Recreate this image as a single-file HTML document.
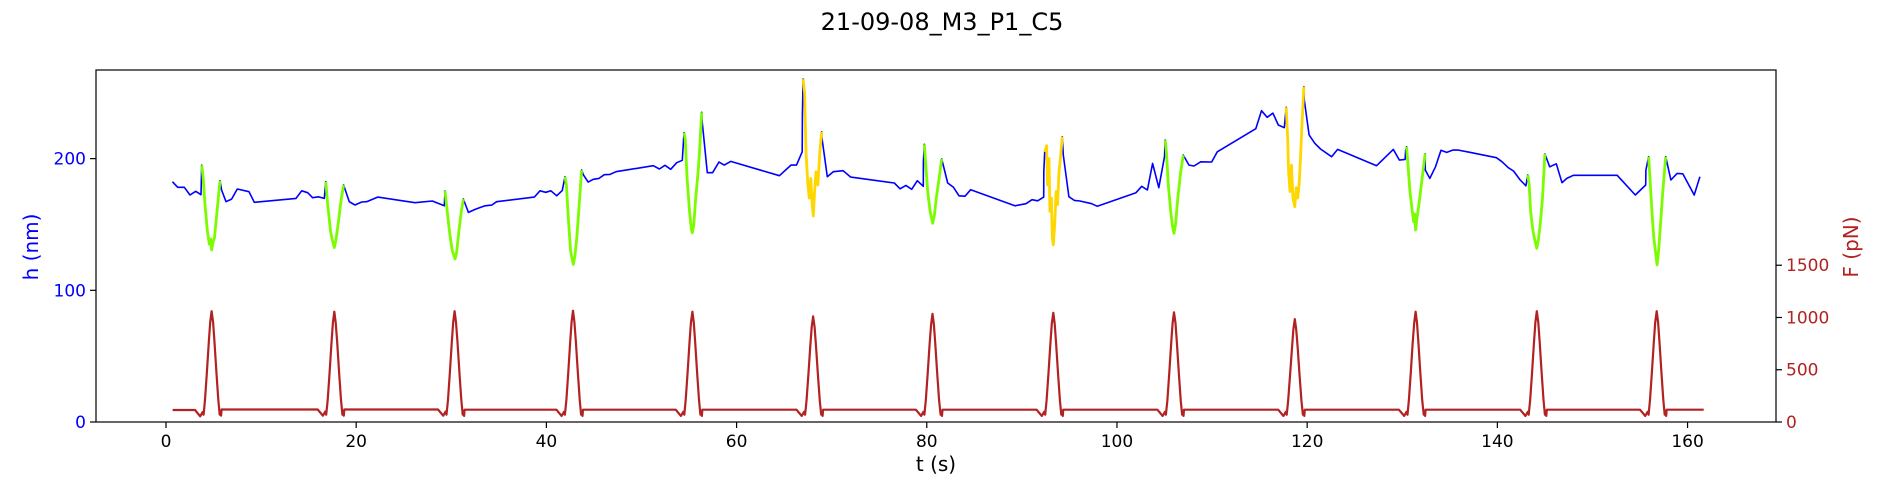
<!DOCTYPE html>
<html><head><meta charset="utf-8">
<style>
html,body{margin:0;padding:0;background:#fff;}
svg{display:block;font-family:"DejaVu Sans","Liberation Sans",sans-serif;}
</style></head>
<body>
<svg id="chart" width="1885" height="500" viewBox="0 0 1885 500" xmlns="http://www.w3.org/2000/svg">
<text x="942" y="30" text-anchor="middle" font-size="24" fill="#000">21-09-08_M3_P1_C5</text>
<g id="plot"></g>
<text x="936" y="471" text-anchor="middle" font-size="20" fill="#000">t (s)</text>
<text transform="translate(38,247) rotate(-90)" text-anchor="middle" font-size="20" fill="#0000ff">h (nm)</text>
<text transform="translate(1858,247) rotate(-90)" text-anchor="middle" font-size="20" fill="#b22222">F (pN)</text>
</svg>
<script>
const xTicks=[0,20,40,60,80,100,120,140,160];
const hTicks=[0,100,200];
const fTicks=[0,500,1000,1500];
const hT=[0.67,1.23,1.93,2.52,3.12,3.68,
3.75,3.9,4.1,4.35,4.55,4.7,4.8,4.95,5.1,5.3,5.5,5.68,
5.85,6.31,6.9,7.5,8.73,9.29,13.67,14.27,14.9,15.42,16.02,16.65,
16.8,17.0,17.3,17.5,17.7,17.85,18.1,18.4,18.68,
19.28,19.87,20.58,21.1,22.26,26.18,28.0,29.27,
29.34,29.5,29.8,30.1,30.25,30.39,30.55,30.8,31.05,31.27,
31.8,32.57,33.55,34.26,34.77,38.73,39.33,39.93,40.48,41.08,41.67,
41.96,42.1,42.3,42.55,42.7,42.83,43.0,43.2,43.45,43.7,
43.9,44.4,44.93,45.53,46.09,46.69,47.32,51.24,51.88,52.47,53.07,53.7,54.29,
54.47,54.6,54.8,55.05,55.25,55.35,55.5,55.7,55.95,56.1,56.33,
56.39,56.92,57.48,58.15,58.7,59.38,64.5,65.72,66.3,66.9,66.92,
67.0,67.15,67.3,67.5,67.65,67.8,67.95,68.07,68.2,68.35,68.55,68.75,68.95,
68.97,69.54,70.17,71.2,72.0,76.58,77.2,77.8,78.41,79.0,79.63,79.65,
79.74,79.9,80.1,80.35,80.5,80.62,80.8,81.0,81.3,81.57,
82.2,82.79,83.39,84.02,84.62,89.27,90.43,91.06,91.66,92.29,92.31,
92.4,92.6,92.7,92.85,92.95,93.1,93.2,93.3,93.45,93.6,93.75,93.9,94.05,94.25,
94.36,94.95,95.51,96.1,97.34,97.93,102.0,102.6,103.2,103.75,104.4,105.0,
105.07,105.2,105.4,105.65,105.85,106.0,106.15,106.4,106.7,106.97,
107.57,108.1,108.8,109.96,110.55,114.6,115.2,115.8,116.4,116.96,117.6,
117.8,117.95,118.05,118.2,118.35,118.5,118.7,118.85,119.0,119.15,119.3,119.45,119.66,
119.7,120.2,120.8,121.4,122.57,123.2,127.3,129.06,129.7,130.3,130.35,
130.46,130.6,130.8,131.05,131.2,131.3,131.4,131.55,131.75,132.0,132.4,
132.42,132.9,133.5,134.07,134.67,135.3,135.9,137.1,139.9,140.5,141.15,141.7,142.4,143.0,
143.2,143.35,143.5,143.75,143.95,144.15,144.3,144.5,144.75,145.0,
145.5,146.2,146.8,147.3,148.0,152.6,154.5,155.6,155.62,
155.9,156.05,156.25,156.45,156.65,156.8,156.95,157.15,157.4,157.7,
158.25,158.9,159.5,160.7,161.3];
const hV=[182.5,178.2,178.2,172.4,175.2,172.6,
195,186,165,145,135,139,130.6,137,140,155,170,183.2,
176.2,167.3,169.3,176.9,174.9,166.8,169.8,175.6,174.1,170.3,171,169.8,
182.5,165,145,138,132.4,137,150,168,180,
167.3,164.8,167.1,167.3,170.8,166.5,167.8,164.2,
175.4,165,145,130,127,123.8,128,145,160,169.3,
159.2,161.7,164.2,164.7,167.3,170.8,175.6,174.4,175.6,171.8,175.9,
186.3,180,155,130,124,119.7,126,140,165,191.3,
187.5,182.2,184.3,185,187.8,188,190.1,194.6,192.1,194.9,191.9,196.9,198.7,
219.7,215,185,160,146,143.7,150,170,190,205,235.2,
228,189.3,189.3,197.4,195.1,197.9,187,195.1,195.1,205.2,233,
260.4,250,205,180,170,185,165,156.4,175,190,180,205,220.4,
216,186.3,190.1,190.8,186,181.5,177.1,179.7,176.7,183.2,179,197.6,
210.9,195,175,160,155,150.9,157,170,185,199.7,
181.5,178.4,171.8,171.5,176.4,164.2,165.8,168.8,168,170.8,190.1,
205,209.8,180,200,160,170,140,134.4,150,175,165,190,200,216.6,
202.7,171.1,168.3,167.8,165.8,163.8,174.1,179,176.2,196.4,177.9,201.5,
214.1,205,180,160,148,143.3,150,170,190,202.7,
195.1,194.4,197.6,197.4,205.2,222.7,236.4,231.4,234.6,225.5,223.5,
239,215,190,175,195,170,163.5,178,170,180,200,225,254.6,
244.5,218,211.6,207.3,201.5,207,194.6,207,198.9,199.4,206,
209,195,175,160,152,158,145.8,155,165,180,203.5,
191.3,185,193.8,206.3,204.7,206.5,206.5,204.8,200.7,197.6,193.1,190.6,183.8,179.4,
187.5,180,160,145,138,131.9,138,150,170,203.5,
193.8,196.1,181.7,185,187.3,187.3,172.4,180,191.3,
201.5,185,160,140,128,119.2,130,150,175,201.5,
183.8,188.8,188.5,172.4,186.3];
const dipStart=[3.75,16.8,29.34,41.96,54.47,67.0,79.74,92.4,105.07,117.8,130.46,143.2,155.9];
const dipEnd=[5.68,18.68,31.27,43.7,56.33,68.95,81.57,94.25,106.97,119.66,132.4,145.0,157.7];
const dipColor=["#7cfc00","#7cfc00","#7cfc00","#7cfc00","#7cfc00","#ffd700","#7cfc00","#ffd700","#7cfc00","#ffd700","#7cfc00","#7cfc00","#7cfc00"];
const fPeakT=[4.8,17.7,30.35,42.8,55.35,68.05,80.6,93.3,106.0,118.7,131.4,144.15,156.75];
const fPeakV=[1060,1055,1060,1065,1055,1010,1035,1045,1050,985,1055,1060,1060];
const fBase=[115,120,120,118,118,118,118,118,118,118,118,118,118,118];
const fStart=0.7, fEnd=161.7;
// pulse shape template (offset s, fraction of peak)
const pulseOff=[-1.75,-1.2,-0.95,-0.85,-0.7,-0.5,-0.3,-0.15,0,0.15,0.3,0.5,0.7,0.85,0.95,1.0,1.05];
const pulseFrac=[-1,-0.6,-0.2,0.05,0.2,0.45,0.72,0.9,1,0.9,0.72,0.45,0.2,0.05,-0.2,-0.6,-1];

const L=96,R=1776,T=70,B=422, XMIN=-7.36, XMAX=169.3, HMAX=267.3, FMAX=3368;
const X=t=>L+(t-XMIN)/(XMAX-XMIN)*(R-L);
const YH=h=>B-h/HMAX*(B-T);
const YF=f=>B-f/FMAX*(B-T);
const NS="http://www.w3.org/2000/svg";
const plot=document.getElementById('plot');
function mk(tag,attrs,parent){const e=document.createElementNS(NS,tag);for(const k in attrs)e.setAttribute(k,attrs[k]);(parent||plot).appendChild(e);return e;}

const fPts=[];
fPts.push([fStart,fBase[0]]);
for(let i=0;i<fPeakT.length;i++){
  const b0=fBase[i], b1=fBase[i+1];
  for(let j=0;j<pulseOff.length;j++){
    const fr=pulseFrac[j];
    let v;
    if(fr===-1) v=(pulseOff[j]<0?b0:b1);
    else if(fr<0) v=(pulseOff[j]<0?b0:b1)+fr*100;
    else v=Math.max(60,fr*fPeakV[i]);
    if(fr>=0&&fr<0.1) v=60+fr*200;
    fPts.push([fPeakT[i]+pulseOff[j],v]);
  }
}
fPts.push([fEnd,fBase[fBase.length-1]]);
const fl=mk('polyline',{points:fPts.map(p=>X(p[0]).toFixed(1)+','+YF(p[1]).toFixed(1)).join(' '),fill:'none',stroke:'#b22222','stroke-width':2.2,'stroke-linejoin':'round'});



const hl=mk('polyline',{points:hT.map((t,i)=>X(t).toFixed(1)+','+YH(hV[i]).toFixed(1)).join(' '),fill:'none',stroke:'#0000ff','stroke-width':1.6,'stroke-linejoin':'round'});



for(let d=0;d<dipStart.length;d++){
  const pts=[];
  for(let i=0;i<hT.length;i++) if(hT[i]>=dipStart[d]-1e-6&&hT[i]<=dipEnd[d]+1e-6) pts.push(X(hT[i]).toFixed(1)+','+YH(hV[i]).toFixed(1));
  const s=mk('polyline',{points:pts.join(' '),fill:'none',stroke:dipColor[d],'stroke-width':2.8,'stroke-linejoin':'round'});
  
  
}

const fr=mk('rect',{x:L,y:T,width:R-L,height:B-T,fill:'none',stroke:'#000','stroke-width':1.2});



xTicks.forEach(v=>{
  const x=X(v);
  const tk=mk('line',{x1:x,x2:x,y1:B,y2:B+6,stroke:'#000','stroke-width':1.2});
  
  
  const tx=mk('text',{x:x,y:447,'text-anchor':'middle','font-size':17,fill:'#000'});
  tx.textContent=v;
  
  
});
hTicks.forEach(v=>{
  const y=YH(v);
  const tk=mk('line',{x1:L-6,x2:L,y1:y,y2:y,stroke:'#000','stroke-width':1.2});
  
  
  const tx=mk('text',{x:86,y:y+6,'text-anchor':'end','font-size':17,fill:'#0000ff'});
  tx.textContent=v;
  
  
});
fTicks.forEach(v=>{
  const y=YF(v);
  const tk=mk('line',{x1:R,x2:R+6,y1:y,y2:y,stroke:'#000','stroke-width':1.2});
  
  
  const tx=mk('text',{x:1786,y:y+6,'text-anchor':'start','font-size':17,fill:'#b22222'});
  tx.textContent=v;
  
  
});
</script>
</body></html>
